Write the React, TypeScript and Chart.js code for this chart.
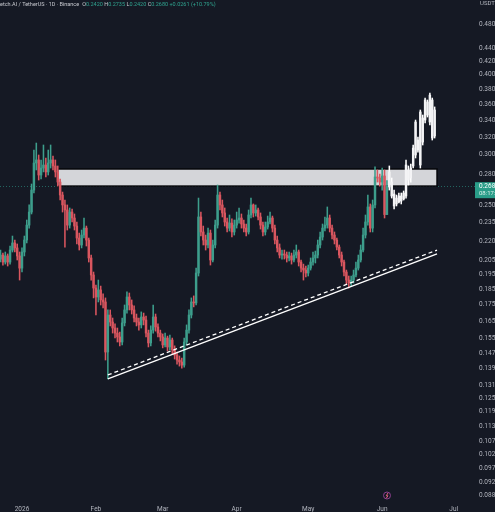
import React, { useEffect, useRef } from 'react';
import { Chart, registerables } from 'chart.js';

Chart.register(...registerables);

// ---------- data ----------
const CANDLE_FIRST_DAY = -9; // days counted from 1 Jan 2026
const FIRST_OPEN = 0.2062;
const candleClose = [
  0.2092, 0.2040, 0.2085, 0.2040, 0.2130, 0.2185, 0.2146, 0.2085, 0.1996,
  0.2115, 0.2208, 0.2330, 0.2442, 0.2643, 0.2913, 0.2945, 0.2790, 0.2861, 0.2892,
  0.2821, 0.2913, 0.2945, 0.2882, 0.2821, 0.2720, 0.2596, 0.2505, 0.2460, 0.2330,
  0.2442, 0.2390, 0.2322, 0.2224, 0.2169, 0.2248, 0.2305, 0.2208, 0.2070, 0.1947,
  0.1858, 0.1799, 0.1845, 0.1780, 0.1767, 0.1476, 0.1686, 0.1644, 0.1609, 0.1580,
  0.1558, 0.1530, 0.1639, 0.1717, 0.1799, 0.1748, 0.1717, 0.1668, 0.1644, 0.1627,
  0.1674, 0.1656, 0.1580, 0.1525, 0.1597, 0.1674, 0.1615, 0.1580, 0.1558, 0.1514,
  0.1552, 0.1503, 0.1541, 0.1487, 0.1460, 0.1434, 0.1424, 0.1408, 0.1530, 0.1597,
  0.1686, 0.1767, 0.1761, 0.1961, 0.2399, 0.2273, 0.2208, 0.2169, 0.2264, 0.2055,
  0.2169, 0.2330, 0.2596, 0.2505, 0.2434, 0.2356, 0.2305, 0.2347, 0.2273, 0.2330,
  0.2373, 0.2390, 0.2339, 0.2305, 0.2273, 0.2416, 0.2505, 0.2434, 0.2460, 0.2399,
  0.2330, 0.2273, 0.2314, 0.2356, 0.2390, 0.2305, 0.2208, 0.2146, 0.2092, 0.2100,
  0.2092, 0.2070, 0.2085, 0.2055, 0.2092, 0.2115, 0.2040, 0.1996, 0.1982, 0.1961,
  0.1996, 0.2040, 0.2070, 0.2092, 0.2169, 0.2232, 0.2305, 0.2330, 0.2390, 0.2305,
  0.2248, 0.2208, 0.2153, 0.2092, 0.2040, 0.1968, 0.1912, 0.1892, 0.1912, 0.1947,
  0.1996, 0.2055, 0.2130, 0.2248, 0.2356, 0.2487, 0.2305, 0.2505, 0.2770, 0.2760,
  0.2720, 0.2780, 0.2420, 0.2680,
];
const candleHigh = [
  0.2130, 0.2107, 0.2115, 0.2100, 0.2161, 0.2240, 0.2208, 0.2177, 0.2115,
  0.2146, 0.2240, 0.2373, 0.2505, 0.2701, 0.3052, 0.3130, 0.2998, 0.2945, 0.3108,
  0.2966, 0.3052, 0.3108, 0.2987, 0.2945, 0.2882, 0.2750, 0.2624, 0.2550, 0.2505,
  0.2478, 0.2469, 0.2425, 0.2356, 0.2264, 0.2289, 0.2390, 0.2322, 0.2224, 0.2092,
  0.1968, 0.1878, 0.1912, 0.1871, 0.1819, 0.1793, 0.1717, 0.1717, 0.1668, 0.1633,
  0.1609, 0.1586, 0.1668, 0.1748, 0.1832, 0.1825, 0.1780, 0.1742, 0.1692, 0.1668,
  0.1705, 0.1698, 0.1680, 0.1597, 0.1621, 0.1748, 0.1692, 0.1633, 0.1597, 0.1575,
  0.1580, 0.1563, 0.1569, 0.1552, 0.1509, 0.1476, 0.1455, 0.1444, 0.1552, 0.1627,
  0.1717, 0.1793, 0.1806, 0.1996, 0.2568, 0.2442, 0.2322, 0.2248, 0.2305, 0.2289,
  0.2208, 0.2373, 0.2691, 0.2624, 0.2550, 0.2478, 0.2390, 0.2416, 0.2382, 0.2373,
  0.2442, 0.2478, 0.2425, 0.2373, 0.2339, 0.2460, 0.2568, 0.2514, 0.2505, 0.2478,
  0.2434, 0.2356, 0.2356, 0.2407, 0.2442, 0.2407, 0.2330, 0.2240, 0.2177, 0.2130,
  0.2130, 0.2115, 0.2115, 0.2107, 0.2130, 0.2169, 0.2130, 0.2055, 0.2025, 0.2011,
  0.2018, 0.2070, 0.2115, 0.2122, 0.2208, 0.2273, 0.2339, 0.2399, 0.2487, 0.2416,
  0.2330, 0.2273, 0.2224, 0.2169, 0.2115, 0.2055, 0.1982, 0.1940, 0.1940, 0.1982,
  0.2040, 0.2092, 0.2169, 0.2305, 0.2416, 0.2596, 0.2514, 0.2550, 0.2872, 0.2841,
  0.2800, 0.2861, 0.2841, 0.2735,
];
const candleLow = [
  0.2040, 0.2018, 0.2025, 0.2011, 0.2025, 0.2115, 0.2115, 0.2055, 0.1912,
  0.1968, 0.2085, 0.2185, 0.2305, 0.2425, 0.2615, 0.2841, 0.2740, 0.2750, 0.2821,
  0.2770, 0.2790, 0.2861, 0.2841, 0.2770, 0.2681, 0.2550, 0.2442, 0.2153, 0.2289,
  0.2305, 0.2356, 0.2289, 0.2177, 0.2130, 0.2146, 0.2224, 0.2161, 0.2040, 0.1912,
  0.1793, 0.1686, 0.1767, 0.1748, 0.1729, 0.1434, 0.1340, 0.1621, 0.1580, 0.1552,
  0.1530, 0.1509, 0.1514, 0.1621, 0.1698, 0.1717, 0.1692, 0.1644, 0.1621, 0.1597,
  0.1609, 0.1627, 0.1558, 0.1503, 0.1509, 0.1580, 0.1591, 0.1558, 0.1536, 0.1498,
  0.1503, 0.1482, 0.1487, 0.1465, 0.1439, 0.1413, 0.1403, 0.1393, 0.1398, 0.1514,
  0.1580, 0.1668, 0.1736, 0.1748, 0.1940, 0.2240, 0.2169, 0.2130, 0.2146, 0.2018,
  0.2040, 0.2146, 0.2305, 0.2460, 0.2399, 0.2322, 0.2273, 0.2281, 0.2232, 0.2248,
  0.2305, 0.2347, 0.2305, 0.2273, 0.2240, 0.2256, 0.2390, 0.2399, 0.2407, 0.2373,
  0.2297, 0.2240, 0.2248, 0.2297, 0.2339, 0.2273, 0.2177, 0.2115, 0.2070, 0.2062,
  0.2062, 0.2040, 0.2048, 0.2025, 0.2040, 0.2070, 0.2011, 0.1968, 0.1912, 0.1933,
  0.1940, 0.1982, 0.2018, 0.2033, 0.2070, 0.2146, 0.2208, 0.2281, 0.2305, 0.2273,
  0.2216, 0.2177, 0.2130, 0.2070, 0.2011, 0.1940, 0.1885, 0.1858, 0.1871, 0.1892,
  0.1933, 0.1982, 0.2040, 0.2115, 0.2224, 0.2330, 0.2273, 0.2273, 0.2478, 0.2720,
  0.2681, 0.2643, 0.2390, 0.2420,
];

// projected (drawn) white bars
const PROJ_FIRST_DAY = 154;
const projOpen = [0.2672, 0.2720, 0.2605, 0.2514, 0.2532, 0.2587, 0.2559, 0.2587, 0.2841, 0.2760, 0.2882, 0.2998, 0.3164, 0.2892, 0.3425, 0.3400, 0.3628, 0.3376, 0.3654, 0.3210];
const projClose = [0.2821, 0.2587, 0.2496, 0.2568, 0.2587, 0.2541, 0.2615, 0.2892, 0.2740, 0.2861, 0.3074, 0.3376, 0.3052, 0.3500, 0.3141, 0.3654, 0.3462, 0.3720, 0.3187, 0.3525];
const projHigh = [0.2882, 0.2760, 0.2643, 0.2596, 0.2615, 0.2615, 0.2634, 0.2945, 0.2882, 0.2903, 0.3108, 0.3400, 0.3199, 0.3525, 0.3462, 0.3680, 0.3654, 0.3747, 0.3680, 0.3564];
const projLow = [0.2643, 0.2568, 0.2469, 0.2496, 0.2523, 0.2514, 0.2550, 0.2568, 0.2691, 0.2720, 0.2861, 0.2966, 0.3030, 0.2861, 0.3108, 0.3364, 0.3437, 0.3340, 0.3164, 0.3187];

// drawings
const trendSolidDays = [36, 174];
const trendSolidPrices = [0.1340, 0.2100];
const trendDashedDays = [36, 174];
const trendDashedPrices = [0.1359, 0.2130];
const zoneDays = [15, 174];
const zonePrices = [0.2681, 0.2851];
const LAST_PRICE = 0.2680;

// axes
const Y_TICKS = [0.48, 0.44, 0.42, 0.40, 0.38, 0.36, 0.34, 0.32, 0.30, 0.28, 0.25, 0.235, 0.22, 0.205, 0.195, 0.185, 0.175, 0.165, 0.155, 0.147, 0.139, 0.131, 0.125, 0.119, 0.113, 0.107, 0.102, 0.097, 0.0925, 0.0881];
const X_TICK_DAYS = [0, 31, 59, 90, 120, 151, 181];
const X_TICK_LABELS = ['2026', 'Feb', 'Mar', 'Apr', 'May', 'Jun', 'Jul'];
const X_MIN = -9.22;
const X_MAX = 189.5;
const Y_MIN = 0.08667;
const Y_MAX = 0.5236;

// ---------- styles ----------
const BG = '#151924';
const UP = '#3d9e8c';
const DOWN = '#d9565f';
const TXT = '#b2b5be';
const TEAL = '#2fa38f';

export default function App() {
  const ref = useRef<HTMLCanvasElement | null>(null);

  useEffect(() => {
    document.body.style.margin = '0';
    document.body.style.background = BG;
    const canvas = ref.current;
    if (!canvas) return;

    const opens = candleClose.map((_, i) => (i === 0 ? FIRST_OPEN : candleClose[i - 1]));
    const days = candleClose.map((_, i) => CANDLE_FIRST_DAY + i);
    const colors = candleClose.map((c, i) => (c >= opens[i] ? UP : DOWN));
    const projDays = projClose.map((_, i) => PROJ_FIRST_DAY + i);

    const decor = {
      id: 'decor',
      beforeDraw(chart: any) {
        const { ctx, width, height } = chart;
        ctx.save();
        ctx.fillStyle = BG;
        ctx.fillRect(0, 0, width, height);
        ctx.restore();
      },
      beforeDatasetsDraw(chart: any) {
        const { ctx, chartArea } = chart;
        const xs = chart.scales.x;
        const ys = chart.scales.y;
        ctx.save();
        const py = Math.round(ys.getPixelForValue(LAST_PRICE)) + 0.5;
        ctx.strokeStyle = 'rgba(47,163,143,0.55)';
        ctx.lineWidth = 1;
        ctx.setLineDash([1, 2]);
        ctx.beginPath();
        ctx.moveTo(chartArea.left, py);
        ctx.lineTo(chart.width, py);
        ctx.stroke();
        ctx.setLineDash([]);
        const x1 = xs.getPixelForValue(zoneDays[0]);
        const x2 = xs.getPixelForValue(zoneDays[1]);
        const y1 = ys.getPixelForValue(zonePrices[1]);
        const y2 = ys.getPixelForValue(zonePrices[0]);
        ctx.fillStyle = '#d4d5d9';
        ctx.fillRect(x1, y1, x2 - x1, y2 - y1);
        ctx.strokeStyle = '#05060a';
        ctx.lineWidth = 1.5;
        ctx.strokeRect(x1, y1, x2 - x1, y2 - y1);
        ctx.restore();
      },
      afterDraw(chart: any) {
        const { ctx } = chart;
        const ys = chart.scales.y;
        ctx.save();
        const py = ys.getPixelForValue(LAST_PRICE);
        ctx.fillStyle = '#2a9d89';
        ctx.fillRect(475, py - 4, 22, 16);
        ctx.fillStyle = '#ffffff';
        ctx.font = '6.5px Roboto';
        ctx.textAlign = 'left';
        ctx.textBaseline = 'middle';
        ctx.fillText('0.2680', 479, py + 0.5);
        ctx.fillStyle = '#d8f0ea';
        ctx.font = '6px Roboto';
        ctx.fillText('08:17:41', 479, py + 7.5);
        ctx.fillStyle = TXT;
        ctx.font = '6px Roboto';
        ctx.fillText('USDT', 480, 3);
        // header
        ctx.font = '5.5px Roboto';
        ctx.textAlign = 'left';
        ctx.fillStyle = '#c8cad0';
        const name = 'Fetch.AI / TetherUS · 1D · Binance';
        ctx.fillText(name, -3, 5);
        let x = -3 + ctx.measureText(name).width + 3;
        const parts: [string, string][] = [
          ['O', '#c8cad0'], ['0.2420 ', TEAL], ['H', '#c8cad0'], ['0.2735 ', TEAL],
          ['L', '#c8cad0'], ['0.2420 ', TEAL], ['C', '#c8cad0'], ['0.2680 ', TEAL],
          ['+0.0261 (+10.79%)', TEAL],
        ];
        for (const [t, c] of parts) {
          ctx.fillStyle = c;
          ctx.fillText(t, x, 5);
          x += ctx.measureText(t).width;
        }
        // event icon
        ctx.strokeStyle = '#8a3f8e';
        ctx.lineWidth = 1;
        ctx.beginPath();
        ctx.arc(387, 495.5, 3.5, 0, Math.PI * 2);
        ctx.stroke();
        ctx.strokeStyle = '#e0607a';
        ctx.beginPath();
        ctx.moveTo(388, 493);
        ctx.lineTo(386.2, 495.8);
        ctx.lineTo(388, 495.8);
        ctx.lineTo(386.2, 498.3);
        ctx.stroke();
        ctx.restore();
      },
    };

    const chart = new Chart(canvas, {
      type: 'bar',
      data: {
        datasets: [
          {
            type: 'bar',
            data: days.map((d, i) => ({ x: d, y: [candleLow[i], candleHigh[i]] })) as any,
            backgroundColor: colors,
            barThickness: 0.9,
            grouped: false,
            order: 3,
          } as any,
          {
            type: 'bar',
            data: days.map((d, i) => ({ x: d, y: [Math.min(opens[i], candleClose[i]), Math.max(opens[i], candleClose[i])] })) as any,
            backgroundColor: colors,
            barThickness: 1.8,
            minBarLength: 1,
            grouped: false,
            order: 2,
          } as any,
          {
            type: 'bar',
            data: projDays.map((d, i) => ({ x: d, y: [projLow[i], projHigh[i]] })) as any,
            backgroundColor: '#ffffff',
            barThickness: 0.9,
            grouped: false,
            order: 1,
          } as any,
          {
            type: 'bar',
            data: projDays.map((d, i) => ({ x: d, y: [Math.min(projOpen[i], projClose[i]), Math.max(projOpen[i], projClose[i])] })) as any,
            backgroundColor: '#f4f4f6',
            barThickness: 1.8,
            minBarLength: 1,
            grouped: false,
            order: 0,
          } as any,
          {
            type: 'line',
            data: trendSolidDays.map((d, i) => ({ x: d, y: trendSolidPrices[i] })) as any,
            borderColor: '#ffffff',
            borderWidth: 1.3,
            pointRadius: 0,
            order: -1,
          } as any,
          {
            type: 'line',
            data: trendDashedDays.map((d, i) => ({ x: d, y: trendDashedPrices[i] })) as any,
            borderColor: '#ffffff',
            borderWidth: 1.3,
            borderDash: [4, 3],
            pointRadius: 0,
            order: -1,
          } as any,
        ],
      },
      options: {
        animation: false,
        responsive: true,
        maintainAspectRatio: false,
        events: [],
        layout: { padding: 0 },
        plugins: { legend: { display: false }, tooltip: { enabled: false } },
        scales: {
          x: {
            type: 'linear',
            min: X_MIN,
            max: X_MAX,
            offset: false,
            bounds: 'data',
            grid: { display: false, drawTicks: false, offset: false },
            border: { display: false },
            afterBuildTicks: (s: any) => {
              s.ticks = X_TICK_DAYS.map((v) => ({ value: v }));
            },
            afterFit: (s: any) => {
              s.height = 12;
              s.paddingLeft = 0;
              s.paddingRight = 0;
            },
            ticks: {
              autoSkip: false,
              maxRotation: 0,
              padding: 5,
              color: TXT,
              font: { family: 'Roboto', size: 6.5 },
              callback: (v: any) => {
                const k = X_TICK_DAYS.indexOf(Number(v));
                return k >= 0 ? X_TICK_LABELS[k] : '';
              },
            },
          },
          y: {
            type: 'logarithmic',
            position: 'right',
            min: Y_MIN,
            max: Y_MAX,
            bounds: 'data',
            grid: { display: false, drawTicks: false },
            border: { display: false },
            afterBuildTicks: (s: any) => {
              s.ticks = Y_TICKS.map((v) => ({ value: v }));
            },
            afterFit: (s: any) => {
              s.width = 21;
              s.paddingTop = 0;
              s.paddingBottom = 0;
            },
            ticks: {
              autoSkip: false,
              padding: 5,
              color: TXT,
              font: { family: 'Roboto', size: 6.5 },
              callback: (v: any) => Number(v).toFixed(4),
            },
          },
        },
      } as any,
      plugins: [decor],
    });

    return () => chart.destroy();
  }, []);

  return (
    <div style={{ width: 495, height: 512, position: 'relative' }}>
      <canvas ref={ref} />
    </div>
  );
}
